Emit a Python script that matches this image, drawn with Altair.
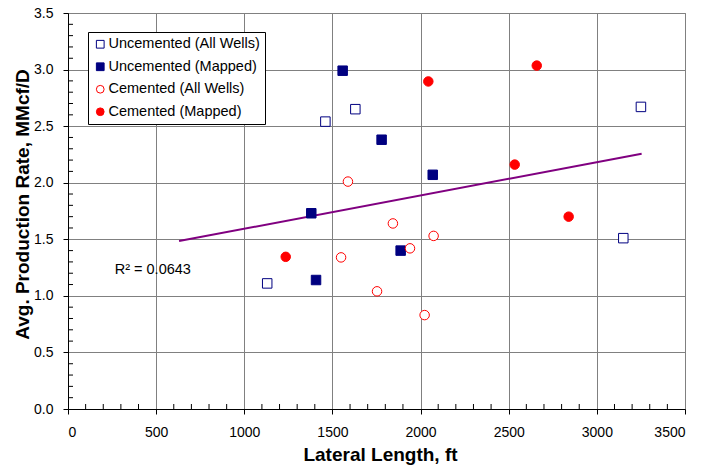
import altair as alt
import pandas as pd

# ---- data ----
series_names = ["Uncemented (All Wells)", "Uncemented (Mapped)",
                "Cemented (All Wells)", "Cemented (Mapped)"]

uc_all_x = [1130, 1460, 1630, 3250, 3150]
uc_all_y = [1.11, 2.54, 2.65, 2.67, 1.51]

uc_map_x = [1558, 1380, 1407, 1779, 2069, 1887]
uc_map_y = [2.99, 1.73, 1.14, 2.38, 2.07, 1.40]

c_all_x = [1588, 1843, 2074, 1549, 1940, 1753, 2023]
c_all_y = [2.01, 1.64, 1.53, 1.34, 1.42, 1.04, 0.83]

c_map_x = [1235, 2044, 2659, 2534, 2840]
c_map_y = [1.345, 2.895, 3.035, 2.16, 1.70]

trend_x = [630, 3254]
trend_y = [1.484, 2.256]

r2_label = ["R² = 0.0643"]
r2_x = [265]
r2_y = [1.19]

x_ticks = [0, 500, 1000, 1500, 2000, 2500, 3000, 3500]
y_ticks = [0.0, 0.5, 1.0, 1.5, 2.0, 2.5, 3.0, 3.5]
x_minor = [v for v in range(0, 3501, 100) if v % 500 != 0]
y_minor = [round(v / 10, 1) for v in range(0, 36) if v % 5 != 0]

# ---- tables ----
rows = []
for name, xs, ys in zip(series_names,
                        [uc_all_x, uc_map_x, c_all_x, c_map_x],
                        [uc_all_y, uc_map_y, c_all_y, c_map_y]):
    for a, b in zip(xs, ys):
        rows.append({"x": a, "y": b, "series": name})
pts = pd.DataFrame(rows)
trend = pd.DataFrame({"x": trend_x, "y": trend_y})
r2 = pd.DataFrame({"x": r2_x, "y": r2_y, "t": r2_label})
xminor = pd.DataFrame({"x": x_minor})
yminor = pd.DataFrame({"y": y_minor})

W, H = 617, 396
FONT = "Liberation Sans"

xscale = alt.Scale(domain=[0, 3500], nice=False, zero=False)
yscale = alt.Scale(domain=[0, 3.5], nice=False, zero=False)

xaxis = alt.Axis(values=x_ticks, format="d", title="Lateral Length, ft",
                 labelFont=FONT, labelFontSize=14, labelColor="black",
                 tickSize=5, tickColor="black", domainColor="black",
                 gridColor="#808080", gridWidth=1, labelPadding=11,
                 titleFont=FONT, titleFontSize=19, titleFontWeight="bold",
                 titleColor="black", titleX=312, titleY=36)
yaxis = alt.Axis(values=y_ticks, format=".1f",
                 title="Avg. Production Rate, MMcf/D",
                 labelFont=FONT, labelFontSize=14, labelColor="black",
                 tickSize=5, tickColor="black", domainColor="black",
                 gridColor="#808080", gridWidth=1, labelPadding=10,
                 titleFont=FONT, titleFontSize=19, titleFontWeight="bold",
                 titleColor="black", titleX=-36, titleY=191)


def X():
    return alt.X("x:Q", scale=xscale, axis=xaxis)


def Y():
    return alt.Y("y:Q", scale=yscale, axis=yaxis)


legend = alt.Legend(orient="none", legendX=20, legendY=19, title=None,
                    fillColor="white", strokeColor="black", padding=5,
                    symbolSize=60, symbolStrokeWidth=1, labelFont=FONT,
                    labelFontSize=14.5, labelColor="black", labelOffset=1,
                    rowPadding=7.5, labelLimit=300)

points = alt.Chart(pts).mark_point(filled=True, size=90, strokeWidth=1,
                                   opacity=1).encode(
    x=X(), y=Y(),
    shape=alt.Shape("series:N", legend=legend,
                    scale=alt.Scale(domain=series_names,
                                    range=["square", "square", "circle", "circle"])),
    fill=alt.Fill("series:N", legend=legend,
                  scale=alt.Scale(domain=series_names,
                                  range=["white", "#000080", "white", "#FF0000"])),
    stroke=alt.Stroke("series:N", legend=legend,
                      scale=alt.Scale(domain=series_names,
                                      range=["#000080", "#000080", "#FF0000", "#FF0000"])),
)

line = alt.Chart(trend).mark_line(color="#800080", strokeWidth=2).encode(x=X(), y=Y())

xm = alt.Chart(xminor).mark_rule(color="black", strokeWidth=1).encode(
    x=X(), y=alt.value(H), y2=alt.value(H - 5))
ym = alt.Chart(yminor).mark_rule(color="black", strokeWidth=1).encode(
    y=Y(), x=alt.value(0), x2=alt.value(5))

txt = alt.Chart(r2).mark_text(align="left", baseline="alphabetic", font=FONT,
                              fontSize=14.5, color="black").encode(
    x=X(), y=Y(), text="t:N")

chart = alt.layer(xm, ym, line, points, txt).properties(
    width=W, height=H,
    padding={"left": 68, "top": 13, "right": 29, "bottom": 58},
    autosize=alt.AutoSizeParams(type="none"),
).configure(font=FONT, background="white").configure_view(
    stroke="#808080", strokeWidth=1)

chart.save("out.html", embed_options={"renderer": "svg", "actions": False})
